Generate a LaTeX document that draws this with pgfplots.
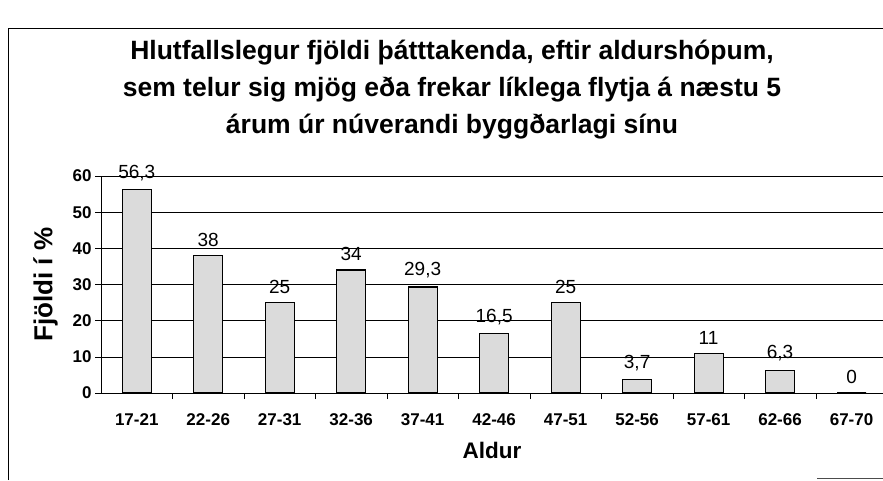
\documentclass[border=0pt]{standalone}
\usepackage{pgfplots}
\pgfplotsset{compat=1.18}
\usepackage{fontspec}
\setmainfont{Liberation Sans}
\begin{document}
\begin{tikzpicture}[x=1pt,y=1pt]
\path[use as bounding box] (0,0) rectangle (883,480);
\draw[line width=0.8pt] (8,0) -- (8,452) -- (883,452);
\draw[line width=0.8pt, black!70] (817,2) -- (883,2);
\node[align=center, font=\fontsize{26.5}{37}\selectfont\bfseries] at (452,390)
  {Hlutfallslegur fjöldi þátttakenda, eftir aldurshópum,\\
   sem telur sig mjög eða frekar líklega flytja á næstu 5\\
   árum úr núverandi byggðarlagi sínu};
\begin{axis}[
  at={(101pt,87pt)}, anchor=south west,
  scale only axis, width=782pt, height=217pt,
  xmin=-0.5, xmax=10.44, ymin=0, ymax=60,
  axis lines*=left,
  axis line style={line width=0.8pt},
  ytick={0,10,...,60},
  ymajorgrids, grid style={black, line width=0.6pt},
  xtick={0,...,10},
  xticklabels={17-21,22-26,27-31,32-36,37-41,42-46,47-51,52-56,57-61,62-66,67-70},
  major x tick style={draw=none},
  minor xtick={0.5,1.5,...,9.5},
  tick align=outside,
  major tick length=6pt, minor tick length=6pt,
  tick style={black, line width=0.6pt},
  tick label style={font=\fontsize{17}{19}\selectfont\bfseries},
  /pgf/number format/assume math mode=true,
  xticklabel style={yshift=-11pt},
  xlabel={Aldur}, ylabel={Fjöldi í \%},
  xlabel style={font=\fontsize{22.5}{25}\selectfont\bfseries, yshift=-10pt},
  ylabel style={font=\fontsize{26}{28}\selectfont\bfseries, yshift=8pt},
  clip=false,
]
\addplot[ybar, bar width=29pt, fill=gray!28, draw=black, line width=1.1pt,
  nodes near coords,
  nodes near coords style={font=\fontsize{19}{21}\selectfont, yshift=5pt,
    /pgf/number format/.cd, use comma, fixed, precision=1}]
coordinates {(0,56.3) (1,38) (2,25) (3,34) (4,29.3) (5,16.5) (6,25) (7,3.7) (8,11) (9,6.3) (10,0)};
\end{axis}
\end{tikzpicture}
\end{document}
